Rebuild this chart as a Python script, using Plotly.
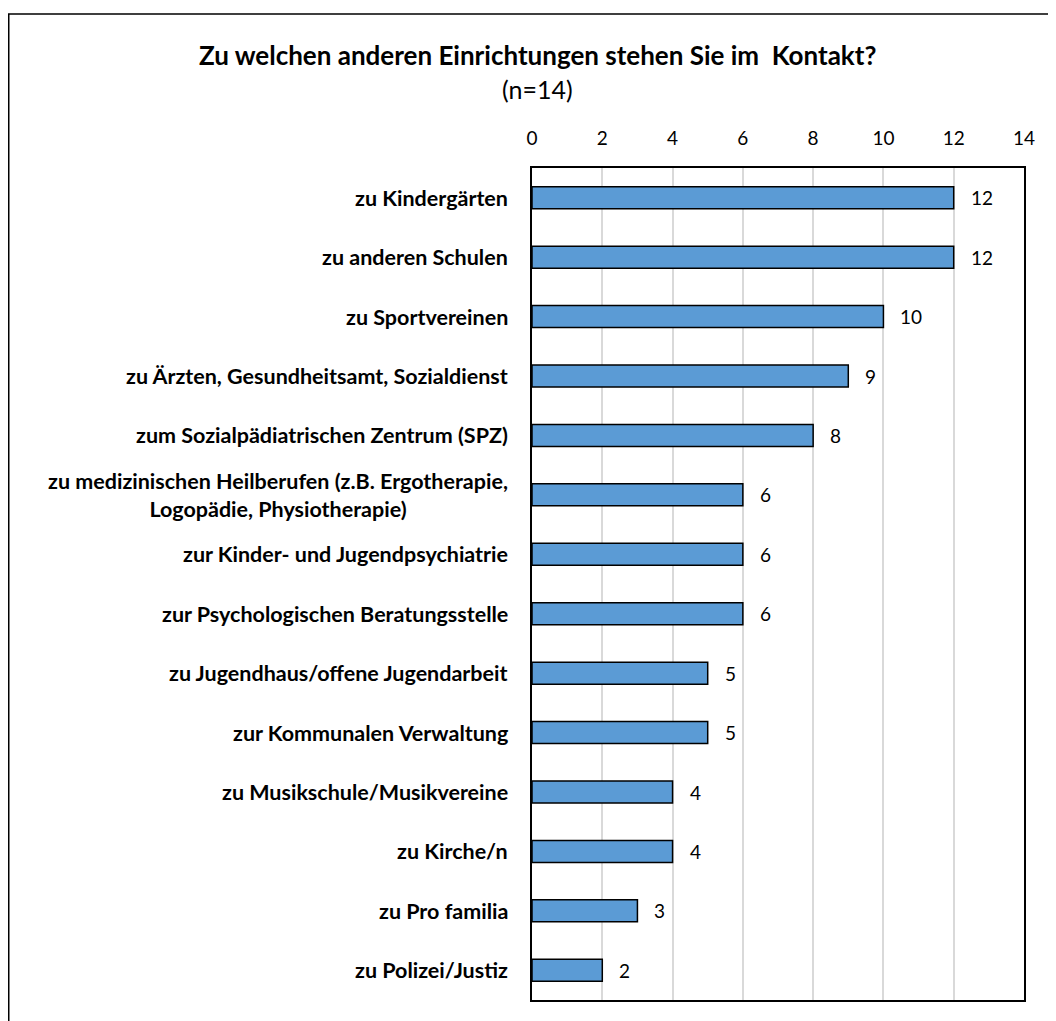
import plotly.graph_objects as go

categories = [
    "zu Kindergärten",
    "zu anderen Schulen",
    "zu Sportvereinen",
    "zu Ärzten, Gesundheitsamt, Sozialdienst",
    "zum Sozialpädiatrischen Zentrum (SPZ)",
    "zu medizinischen Heilberufen (z.B. Ergotherapie,<br>Logopädie, Physiotherapie)",
    "zur Kinder- und Jugendpsychiatrie",
    "zur Psychologischen Beratungsstelle",
    "zu Jugendhaus/offene Jugendarbeit",
    "zur Kommunalen Verwaltung",
    "zu Musikschule/Musikvereine",
    "zu Kirche/n",
    "zu Pro familia",
    "zu Polizei/Justiz",
]
counts = [12, 12, 10, 9, 8, 6, 6, 6, 5, 5, 4, 4, 3, 2]
x_ticks = [0, 2, 4, 6, 8, 10, 12, 14]

# page has an 8px body margin, so the figure is a bit smaller than the window
W, H = 1048, 1013
L, R, T, B = 524, 32, 160, 21
FONT = "Lato"
pw, ph = W - L - R, H - T - B


def px_x(x):
    return (x - L) / pw


def px_y(y):
    return (H - B - y) / ph


fig = go.Figure()
fig.add_trace(go.Bar(
    x=counts, y=categories, orientation="h",
    marker=dict(color="#5B9BD5", line=dict(color="#000000", width=1.5)),
    width=0.37, hoverinfo="x+y",
))

# category labels (centered multi-line like the original)
for c in categories:
    fig.add_annotation(x=px_x(L - 22), xref="paper", y=c, yref="y", text=f"<b>{c}</b>",
                       xanchor="right", align="center", showarrow=False,
                       font=dict(family=FONT, size=21.5, color="#000000"))
# value labels
for c, v in zip(categories, counts):
    fig.add_annotation(x=v, y=c, text=str(v), xanchor="left", xshift=15,
                       showarrow=False, font=dict(family=FONT, size=19, color="#000000"))

fig.add_annotation(x=px_x(529), xref="paper", y=px_y(47), yref="paper",
                   text="<b>Zu welchen anderen Einrichtungen stehen Sie im  Kontakt?</b>",
                   showarrow=False, xanchor="center", yanchor="middle",
                   font=dict(family=FONT, size=26, color="#000000"))
fig.add_annotation(x=px_x(529), xref="paper", y=px_y(81), yref="paper",
                   text="(n=14)", showarrow=False, xanchor="center", yanchor="middle",
                   font=dict(family=FONT, size=25, color="#000000"))

# outer chart border
fig.add_shape(type="rect", xref="paper", yref="paper",
              x0=px_x(0.75), x1=px_x(W + 10),
              y0=px_y(H + 10), y1=px_y(6),
              line=dict(color="#000000", width=1.5), fillcolor="rgba(0,0,0,0)")

fig.update_layout(
    width=W, height=H, margin=dict(l=L, r=R, t=T, b=B),
    plot_bgcolor="white", paper_bgcolor="white", showlegend=False,
    font=dict(family=FONT, size=19, color="#000000"),
)
fig.update_xaxes(range=[0, 14], tickvals=x_ticks, side="top", showgrid=True,
                 gridcolor="#D9D9D9", gridwidth=1.5, zeroline=False,
                 showline=True, linecolor="#000000", linewidth=1.5, mirror=True,
                 ticks="", tickfont=dict(size=19), ticklabelstandoff=14)
fig.update_yaxes(autorange="reversed", showticklabels=False, ticks="",
                 showline=True, linecolor="#000000", linewidth=1.5, mirror=True)

fig.write_html("out.html")
